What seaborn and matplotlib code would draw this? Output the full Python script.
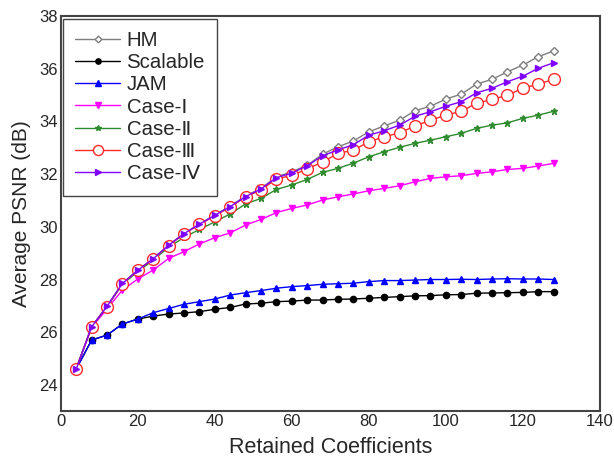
import numpy as np
import pandas as pd
import seaborn as sns
import matplotlib.pyplot as plt

# retained coefficients (x axis)
coeffs = [4, 8, 12, 16, 20, 24, 28, 32, 36, 40, 44, 48, 52, 56, 60, 64,
          68, 72, 76, 80, 84, 88, 92, 96, 100, 104, 108, 112, 116, 120, 124, 128]

hm = [24.63, 26.21, 26.99, 27.86, 28.36, 28.80, 29.31, 29.75, 30.11, 30.45, 30.79, 31.17,
      31.46, 31.90, 32.09, 32.34, 32.76, 33.04, 33.26, 33.61, 33.83, 34.05, 34.41, 34.58,
      34.85, 35.04, 35.42, 35.60, 35.89, 36.14, 36.46, 36.68]
scalable = [24.60, 25.70, 25.89, 26.31, 26.50, 26.61, 26.69, 26.73, 26.78, 26.87, 26.94, 27.07,
            27.10, 27.16, 27.18, 27.22, 27.22, 27.25, 27.26, 27.29, 27.32, 27.35, 27.38, 27.39,
            27.42, 27.43, 27.48, 27.49, 27.50, 27.51, 27.54, 27.54]
jam = [24.60, 25.70, 25.89, 26.31, 26.50, 26.74, 26.90, 27.06, 27.16, 27.26, 27.41, 27.50,
       27.58, 27.67, 27.73, 27.77, 27.82, 27.84, 27.86, 27.92, 27.96, 27.96, 27.98, 28.00,
       28.00, 28.01, 28.00, 28.02, 28.03, 28.02, 28.02, 28.00]
case1 = [24.60, 26.18, 26.88, 27.60, 28.02, 28.36, 28.80, 29.06, 29.35, 29.59, 29.77, 30.07,
         30.28, 30.54, 30.70, 30.83, 31.02, 31.14, 31.25, 31.37, 31.46, 31.56, 31.71, 31.84,
         31.90, 31.94, 32.03, 32.09, 32.18, 32.22, 32.31, 32.41]
case2 = [24.60, 26.20, 26.96, 27.82, 28.30, 28.74, 29.22, 29.60, 29.90, 30.19, 30.49, 30.87,
         31.08, 31.42, 31.59, 31.80, 32.07, 32.22, 32.42, 32.66, 32.85, 33.02, 33.17, 33.29,
         33.42, 33.55, 33.74, 33.86, 33.95, 34.12, 34.24, 34.39]
case3 = [24.60, 26.20, 26.97, 27.84, 28.35, 28.78, 29.29, 29.73, 30.09, 30.42, 30.75, 31.14,
         31.40, 31.82, 31.95, 32.20, 32.46, 32.79, 32.91, 33.23, 33.42, 33.57, 33.83, 34.05,
         34.24, 34.39, 34.69, 34.84, 35.00, 35.26, 35.42, 35.60]
case4 = [24.60, 26.20, 26.98, 27.85, 28.35, 28.79, 29.30, 29.74, 30.10, 30.44, 30.77, 31.15,
         31.44, 31.87, 32.04, 32.32, 32.70, 32.92, 33.12, 33.48, 33.65, 33.86, 34.20, 34.37,
         34.58, 34.75, 35.09, 35.26, 35.51, 35.72, 36.02, 36.23]

labels = ['HM', 'Scalable', 'JAM', 'Case-Ⅰ', 'Case-Ⅱ', 'Case-Ⅲ', 'Case-Ⅳ']
series = [hm, scalable, jam, case1, case2, case3, case4]

sns.set_style('white')
plt.rcParams['font.family'] = ['Liberation Sans', 'DejaVu Sans']

fig = plt.figure(figsize=(6.14, 4.61), dpi=100)
ax = fig.add_axes([0.099, 0.108, 0.878, 0.857])

# line / marker styles per series
styles = {
    'HM':       dict(color='#7f7f7f', marker='D', markersize=4, markerfacecolor='white', markeredgecolor='#7f7f7f'),
    'Scalable': dict(color='black', marker='o', markersize=4.5, markerfacecolor='black', markeredgecolor='black'),
    'JAM':      dict(color='#0000ff', marker='^', markersize=5, markerfacecolor='#0000ff', markeredgecolor='#0000ff'),
    'Case-Ⅰ':   dict(color='#ff00ff', marker='v', markersize=5, markerfacecolor='#ff00ff', markeredgecolor='#ff00ff'),
    'Case-Ⅱ':   dict(color='#2e8b2e', marker='*', markersize=4.5, markerfacecolor='#2e8b2e', markeredgecolor='#2e8b2e'),
    'Case-Ⅲ':   dict(color='#ff2a2a', marker='o', markersize=8.5, markerfacecolor='white', markeredgecolor='#ff2a2a'),
    'Case-Ⅳ':   dict(color='#7f00ff', marker='>', markersize=5, markerfacecolor='#7f00ff', markeredgecolor='#7f00ff'),
}

for lab, vals in zip(labels, series):
    df = pd.DataFrame({'coeff': coeffs, 'psnr': vals})
    sns.lineplot(data=df, x='coeff', y='psnr', ax=ax, label=lab, linewidth=1.0,
                 markeredgewidth=1, **styles[lab])

ax.set_xlim(0, 140)
ax.set_ylim(23, 38)
ax.set_xticks(range(0, 141, 20))
ax.set_yticks(range(24, 39, 2))
ax.tick_params(axis='both', labelsize=12, direction='in', length=3, pad=2, color='#333333')
ax.set_xlabel('Retained Coefficients', fontsize=15.5, labelpad=6)
ax.set_ylabel('Average PSNR (dB)', fontsize=15, labelpad=6)
for sp in ax.spines.values():
    sp.set_color('#444444')
    sp.set_linewidth(1.5)

leg = ax.legend(loc='upper left', fontsize=14.7, frameon=True, fancybox=False,
                edgecolor='#444444', framealpha=1, handlelength=2.2, handletextpad=0.3,
                labelspacing=0.16, borderaxespad=0.12, borderpad=0.6, markerscale=0.85)
leg.get_frame().set_linewidth(1.0)

fig.savefig('out.png', dpi=100)
